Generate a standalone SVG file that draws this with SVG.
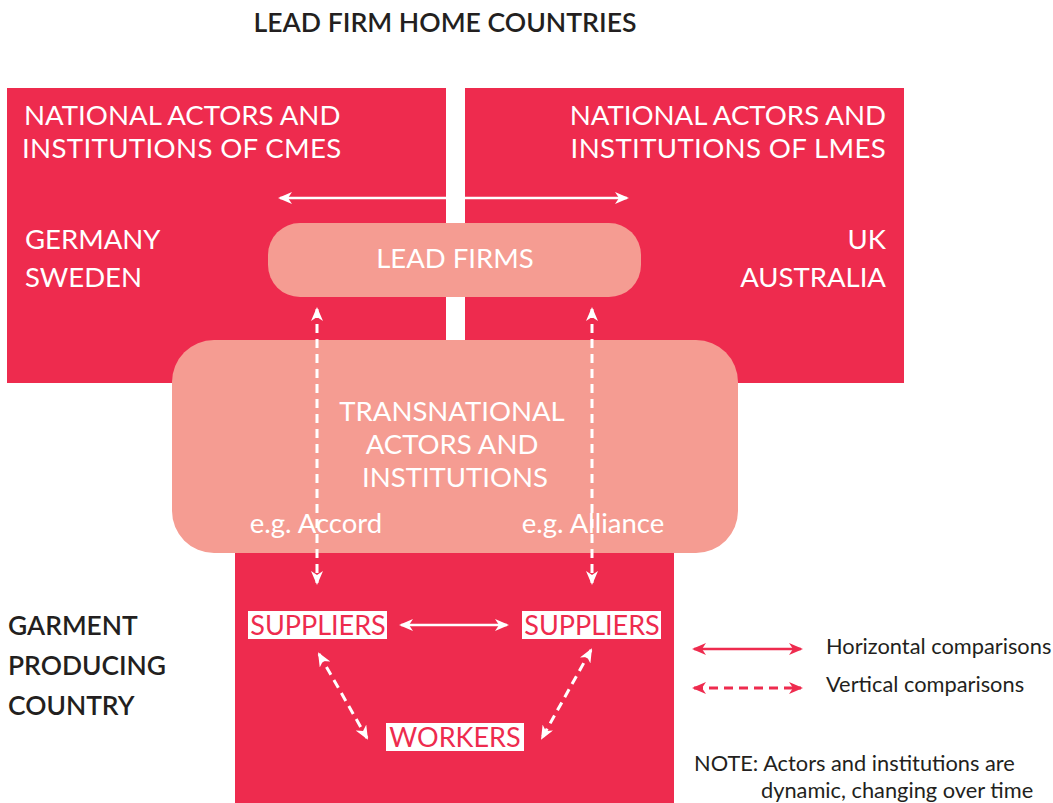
<svg xmlns="http://www.w3.org/2000/svg" width="1053" height="803" viewBox="0 0 1053 803">
<style>
text{font-family:Lato,"Noto Sans","Liberation Sans",sans-serif}
.red{fill:#ee2b4e}
.pink{fill:#f59c92}
.w{fill:#ffffff}
.dk{fill:#231f20}
.hd{font-size:27.6px}
.ls{letter-spacing:0.35px}
.lbl{font-size:27.5px}
.sp{font-size:27px}
.eg{font-size:27.5px}
.lg{font-size:21.8px}
.solidw{stroke:#ffffff;stroke-width:2.5;fill:none}
.dashw{stroke:#ffffff;stroke-width:3;fill:none;stroke-dasharray:9 6}
.solidr{stroke:#ee2b4e;stroke-width:2.5;fill:none}
.dashr{stroke:#ee2b4e;stroke-width:3;fill:none;stroke-dasharray:9 6}
</style>
<defs>
<marker id="aw" viewBox="0 0 14 12" refX="12" refY="6" markerWidth="14" markerHeight="12" markerUnits="userSpaceOnUse" orient="auto-start-reverse">
<path d="M0,0 L14,6 L0,12 L4,6 z" fill="#ffffff"/>
</marker>
<marker id="ar" viewBox="0 0 14 12" refX="12" refY="6" markerWidth="14" markerHeight="12" markerUnits="userSpaceOnUse" orient="auto-start-reverse">
<path d="M0,0 L14,6 L0,12 L4,6 z" fill="#ee2b4e"/>
</marker>
</defs>
<rect width="1053" height="803" fill="#ffffff"/>
<text x="445" y="32" text-anchor="middle" class="dk" font-size="26.6" font-weight="600">LEAD FIRM HOME COUNTRIES</text>
<g id="cmes">
<rect x="7" y="88" width="439" height="295" class="red"/>
<text x="24" y="125" class="w hd">NATIONAL ACTORS AND</text>
<text x="22" y="158" class="w hd ls">INSTITUTIONS OF CMES</text>
<text x="25" y="249" class="w lbl">GERMANY</text>
<text x="25" y="287" class="w lbl">SWEDEN</text>
</g>
<g id="lmes">
<rect x="465" y="88" width="439" height="295" class="red"/>
<text x="886" y="125" text-anchor="end" class="w hd">NATIONAL ACTORS AND</text>
<text x="886" y="158" text-anchor="end" class="w hd ls">INSTITUTIONS OF LMES</text>
<text x="886" y="249" text-anchor="end" class="w lbl">UK</text>
<text x="886" y="287" text-anchor="end" class="w lbl">AUSTRALIA</text>
</g>
<g id="garment-country">
<rect x="235" y="540" width="439" height="263" class="red"/>
<text x="8" y="635" class="dk" font-size="26.4" font-weight="600">GARMENT</text>
<text x="8" y="675" class="dk" font-size="26.4" font-weight="600">PRODUCING</text>
<text x="8" y="715" class="dk" font-size="26.4" font-weight="600">COUNTRY</text>
</g>
<g id="lead-firms">
<rect x="268" y="223" width="373" height="74" rx="32" class="pink"/>
<text x="455" y="268" text-anchor="middle" class="w lbl">LEAD FIRMS</text>
</g>
<g id="transnational">
<rect x="172" y="340" width="566" height="213" rx="42" class="pink"/>
<text x="452" y="421" text-anchor="middle" class="w lbl">TRANSNATIONAL</text>
<text x="452" y="454" text-anchor="middle" class="w lbl">ACTORS AND</text>
<text x="455" y="487" text-anchor="middle" class="w lbl">INSTITUTIONS</text>
<text x="316" y="533" text-anchor="middle" class="w eg">e.g. Accord</text>
<text x="593" y="533" text-anchor="middle" class="w eg">e.g. Alliance</text>
</g>
<g id="suppliers-left">
<rect x="248" y="611" width="139" height="28" class="w"/>
<text x="318" y="635" text-anchor="middle" class="red sp">SUPPLIERS</text>
</g>
<g id="suppliers-right">
<rect x="522" y="611" width="139" height="28" class="w"/>
<text x="592" y="635" text-anchor="middle" class="red sp">SUPPLIERS</text>
</g>
<g id="workers">
<rect x="386" y="723" width="138" height="28" class="w"/>
<text x="455" y="747" text-anchor="middle" class="red sp">WORKERS</text>
</g>
<g id="connectors">
<line x1="280" y1="198" x2="627" y2="198" class="solidw" marker-start="url(#aw)" marker-end="url(#aw)"/>
<line x1="317" y1="309" x2="317" y2="583" class="dashw" marker-start="url(#aw)" marker-end="url(#aw)"/>
<line x1="592" y1="309" x2="592" y2="583" class="dashw" marker-start="url(#aw)" marker-end="url(#aw)"/>
<line x1="401" y1="625" x2="507" y2="625" class="solidw" marker-start="url(#aw)" marker-end="url(#aw)"/>
<line x1="319" y1="654" x2="367" y2="738" class="dashw" marker-start="url(#aw)" marker-end="url(#aw)"/>
<line x1="591" y1="650" x2="542" y2="738" class="dashw" marker-start="url(#aw)" marker-end="url(#aw)"/>
</g>
<g id="legend">
<line x1="694" y1="649" x2="801" y2="649" class="solidr" marker-start="url(#ar)" marker-end="url(#ar)"/>
<line x1="694" y1="688" x2="801" y2="688" class="dashr" marker-start="url(#ar)" marker-end="url(#ar)"/>
<text x="826" y="654" class="dk lg">Horizontal comparisons</text>
<text x="826" y="692" class="dk lg">Vertical comparisons</text>
<text x="694" y="771" class="dk lg">NOTE: Actors and institutions are</text>
<text x="761" y="798" class="dk lg">dynamic, changing over time</text>
</g>
</svg>
